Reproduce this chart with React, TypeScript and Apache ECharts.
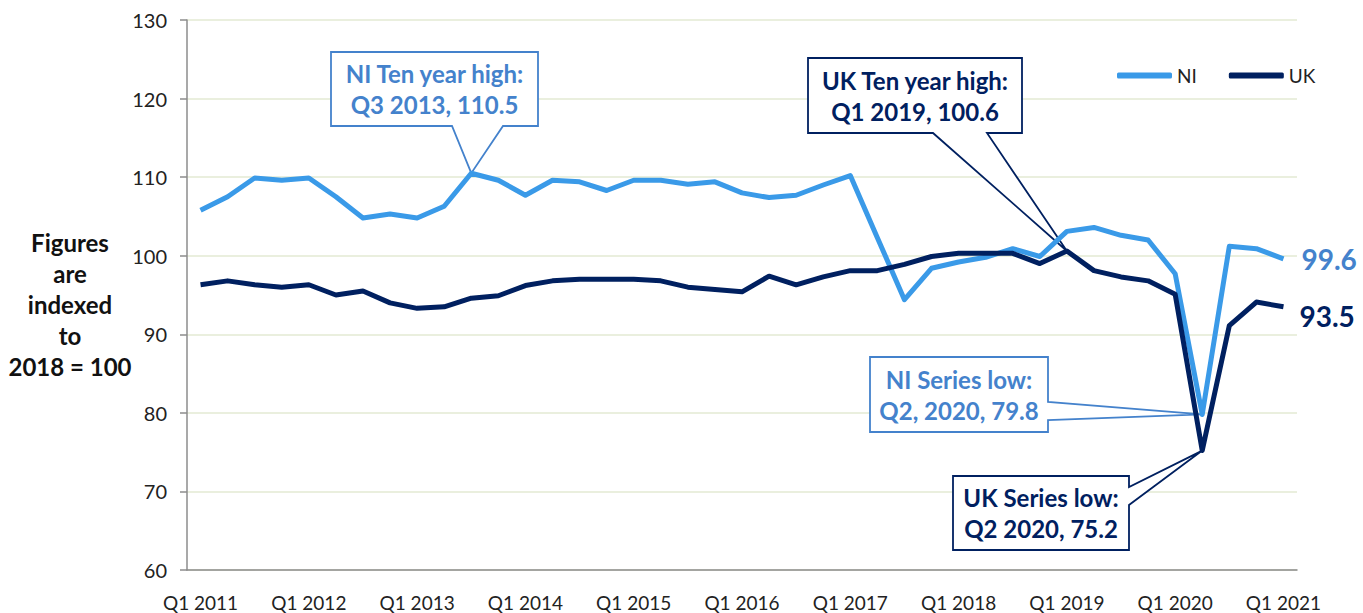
import React, { useEffect, useRef } from "react";
import * as echarts from "echarts";

const years = [2011, 2012, 2013, 2014, 2015, 2016, 2017, 2018, 2019, 2020, 2021];
const quarters = ["Q1", "Q2", "Q3", "Q4"];
const categories: string[] = [];
years.forEach((y) => quarters.forEach((q) => categories.push(`${q} ${y}`)));
categories.splice(41);

const niValues = [
  105.8, 107.5, 109.9, 109.6, 109.9, 107.5, 104.8, 105.3, 104.8, 106.3,
  110.5, 109.6, 107.7, 109.6, 109.4, 108.3, 109.6, 109.6, 109.1, 109.4,
  108.0, 107.4, 107.7, 109.0, 110.2, 102.3, 94.4, 98.4, 99.2, 99.8,
  100.9, 99.9, 103.1, 103.6, 102.6, 102.0, 97.7, 79.8, 101.2, 100.9, 99.6,
];
const ukValues = [
  96.3, 96.8, 96.3, 96.0, 96.3, 95.0, 95.5, 94.0, 93.3, 93.5,
  94.6, 94.9, 96.2, 96.8, 97.0, 97.0, 97.0, 96.8, 96.0, 95.7,
  95.4, 97.4, 96.3, 97.3, 98.1, 98.1, 98.9, 99.9, 100.3, 100.3,
  100.3, 99.0, 100.6, 98.1, 97.3, 96.8, 95.1, 75.2, 91.1, 94.1, 93.5,
];

const NI_COLOR = "#3a9ae8";
const NI_TEXT = "#4482cc";
const UK_COLOR = "#002060";
const FONT = "Lato, 'Noto Sans', sans-serif";

type Callout = {
  lines: string;
  color: string;
  box: [number, number, number, number];
  side: "bottom" | "right";
  base: [number, number];
  index: number;
  series: number[];
};

const callouts: Callout[] = [
  { lines: "NI Ten year high:\nQ3 2013, 110.5", color: NI_TEXT, box: [331, 52, 538, 126], side: "bottom", base: [452, 503], index: 10, series: niValues },
  { lines: "UK Ten year high:\nQ1 2019, 100.6", color: UK_COLOR, box: [808, 58, 1022, 133], side: "bottom", base: [933, 987], index: 32, series: ukValues },
  { lines: "NI Series low:\nQ2, 2020, 79.8", color: NI_TEXT, box: [870, 357, 1048, 432], side: "right", base: [402, 420], index: 37, series: niValues },
  { lines: "UK Series low:\nQ2 2020, 75.2", color: UK_COLOR, box: [953, 476, 1129, 550], side: "right", base: [487, 505], index: 37, series: ukValues },
];

export default function App() {
  const ref = useRef<HTMLDivElement>(null);
  useEffect(() => {
    if (!ref.current) return;
    const chart = echarts.init(ref.current, null, { renderer: "svg" });
    const option: any = {
      animation: false,
      textStyle: { fontFamily: FONT },
      grid: { left: 187, right: 66, top: 20, bottom: 43, containLabel: false },
      legend: {
        left: 1112,
        top: 61,
        itemWidth: 55,
        itemHeight: 6,
        itemGap: 32,
        icon: "roundRect",
        textStyle: { fontFamily: FONT, fontSize: 19, color: "#222" },
        data: ["NI", "UK"],
      },
      xAxis: {
        type: "category",
        data: categories,
        boundaryGap: true,
        axisLine: { lineStyle: { color: "#8c8c8c", width: 1.5 } },
        axisTick: { interval: 0, length: 7, lineStyle: { color: "#8c8c8c", width: 1.5 } },
        axisLabel: { interval: 3, margin: 23, fontSize: 19, color: "#222", fontFamily: FONT },
        splitLine: { show: false },
      },
      yAxis: {
        type: "value",
        min: 60,
        max: 130,
        interval: 10,
        axisLine: { show: true, lineStyle: { color: "#8c8c8c", width: 1.5 } },
        axisTick: { show: true, length: 7, lineStyle: { color: "#8c8c8c", width: 1.5 } },
        axisLabel: { margin: 20, fontSize: 20, color: "#222", fontFamily: FONT },
        splitLine: { lineStyle: { color: "#e3ead3", width: 1.5 } },
      },
      series: [
        {
          name: "NI",
          type: "line",
          data: niValues,
          symbol: "none",
          z: 3,
          lineStyle: { color: NI_COLOR, width: 5, join: "round" },
          itemStyle: { color: NI_COLOR },
          endLabel: {
            show: true,
            distance: 18,
            formatter: (p: any) => String(p.value),
            fontFamily: FONT,
            fontSize: 28,
            fontWeight: "bold",
            color: NI_TEXT,
          },
        },
        {
          name: "UK",
          type: "line",
          data: ukValues,
          symbol: "none",
          z: 4,
          lineStyle: { color: UK_COLOR, width: 5, join: "round" },
          itemStyle: { color: UK_COLOR },
          endLabel: {
            show: true,
            distance: 16,
            offset: [0, 9],
            formatter: (p: any) => String(p.value),
            fontFamily: FONT,
            fontSize: 28,
            fontWeight: "bold",
            color: UK_COLOR,
          },
        },
      ],
    };
    chart.setOption(option);

    const elements: any[] = [];
    callouts.forEach((c) => {
      const tip = chart.convertToPixel({ xAxisIndex: 0, yAxisIndex: 0 }, [c.index, c.series[c.index]]) as number[];
      const [x0, y0, x1, y1] = c.box;
      let points: number[][];
      if (c.side === "bottom") {
        points = [[x0, y0], [x1, y0], [x1, y1], [c.base[1], y1], tip, [c.base[0], y1], [x0, y1]];
      } else {
        points = [[x0, y0], [x1, y0], [x1, c.base[0]], tip, [x1, c.base[1]], [x1, y1], [x0, y1]];
      }
      elements.push({
        type: "polygon",
        z: 1,
        shape: { points },
        style: { fill: "#fff", stroke: c.color, lineWidth: 1.8 },
      });
      elements.push({
        type: "text",
        z: 5,
        x: (x0 + x1) / 2,
        y: (y0 + y1) / 2,
        style: {
          text: c.lines,
          fill: c.color,
          font: `bold 24px ${FONT}`,
          lineHeight: 31,
          align: "center",
          verticalAlign: "middle",
        },
      });
    });
    elements.push({
      type: "text",
      x: 70,
      y: 304,
      style: {
        text: "Figures\nare\nindexed\nto\n2018 = 100",
        fill: "#111",
        font: `bold 24px ${FONT}`,
        lineHeight: 31,
        align: "center",
        verticalAlign: "middle",
      },
    });
    chart.setOption({ graphic: { elements } });

    return () => chart.dispose();
  }, []);
  return <div ref={ref} style={{ width: 1363, height: 613, position: "absolute", left: 0, top: 0 }} />;
}
